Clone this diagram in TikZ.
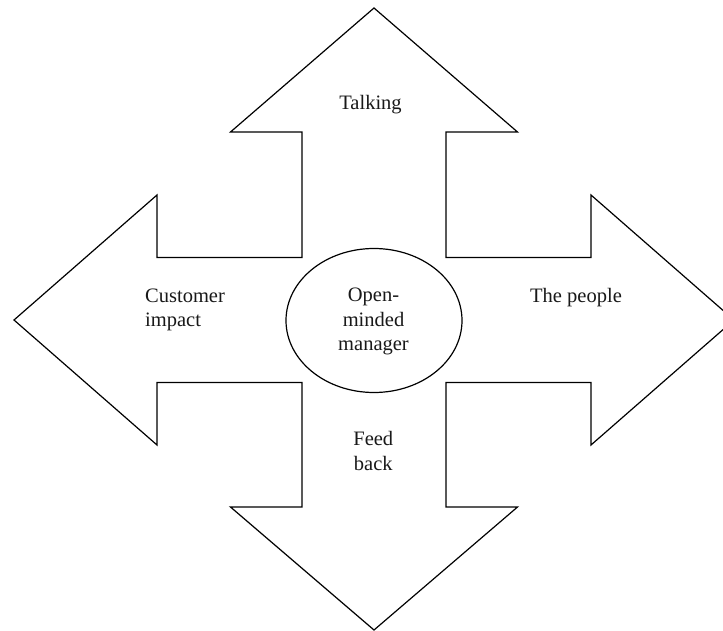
\documentclass[tikz,border=0pt]{standalone}
\usepackage{fontspec}
\setmainfont{Liberation Serif}
\usetikzlibrary{shapes.geometric}
\begin{document}
\begin{tikzpicture}[x=1pt,y=-1pt,
  outline/.style={draw=black,line width=1.2pt,line join=miter,fill=white},
  lbl/.style={inner sep=0pt,font=\fontsize{20.5}{24.5}\selectfont,text=black!90}]
\useasboundingbox (0,0) rectangle (723,631);
\begin{scope}
\clip (0,0) rectangle (723,631);
\draw[outline] (374,8) -- (517.5,132) -- (446,132) -- (446,257.5) -- (591,257.5)
  -- (591,195) -- (734,320) -- (591,445) -- (591,382.5) -- (446,382.5)
  -- (446,507) -- (517.5,507) -- (374,630) -- (230.5,507) -- (302,507)
  -- (302,382.5) -- (157,382.5) -- (157,445) -- (14,320) -- (157,195)
  -- (157,257.5) -- (302,257.5) -- (302,132) -- (230.5,132) -- cycle;
\end{scope}
\node[outline,ellipse,minimum width=176pt,minimum height=144pt,inner sep=0pt] (mgr) at (374,320.5) {};
\node[lbl,align=center,anchor=base] (mgrtext) at (373.5,350.5) {Open-\\minded\\manager};
\node[lbl,anchor=base] (talk) at (370.5,110) {Talking};
\node[lbl,anchor=base west] (people) at (530,302.7) {The people};
\node[lbl,align=left,anchor=base west] (cust) at (145,326.7) {Customer\\impact};
\node[lbl,align=center,anchor=base] (feed) at (373.3,470) {Feed\\back};
\end{tikzpicture}
\end{document}
